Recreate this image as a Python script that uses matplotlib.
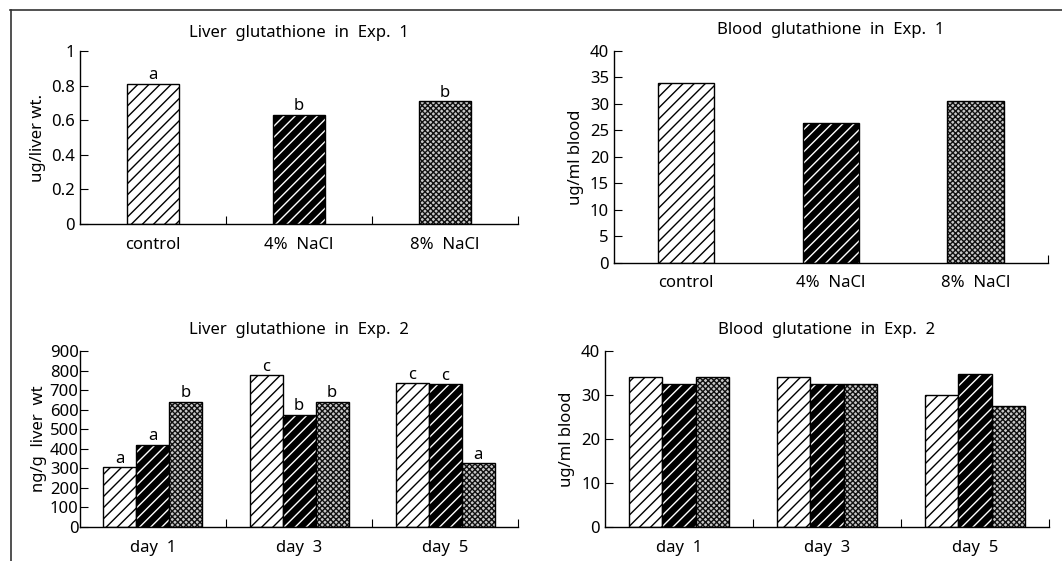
#!/usr/bin/env python3

import matplotlib
matplotlib.use("Agg")
import matplotlib.pyplot as plt
from matplotlib.lines import Line2D
import numpy as np

plt.rcParams["font.family"] = ["Noto Sans", "DejaVu Sans"]
plt.rcParams["hatch.linewidth"] = 1.0

# =========================
# Hardcoded data
# =========================

groups_exp1 = ["control", "4%  NaCl", "8%  NaCl"]
liver_exp1 = [0.81, 0.63, 0.71]
liver_exp1_sig = ["a", "b", "b"]
blood_exp1 = [33.9, 26.5, 30.5]

days = ["day  1", "day  3", "day  5"]
# rows: control, 4% NaCl, 8% NaCl
liver_exp2 = [
    [305, 775, 735],
    [420, 575, 730],
    [640, 640, 325],
]
liver_exp2_sig = [
    ["a", "c", "c"],
    ["a", "b", "c"],
    ["b", "b", "a"],
]
blood_exp2 = [
    [34.0, 34.0, 30.0],
    [32.5, 32.5, 34.7],
    [34.0, 32.5, 27.5],
]

# =========================
# Styles
# =========================

FONT = 12


def draw_bar(ax, x, h, w, kind):
    if kind == 0:
        ax.bar(x, h, w, facecolor="white", edgecolor="black", hatch="///", linewidth=0)
    elif kind == 1:
        ax.bar(x, h, w, facecolor="black", edgecolor="white", hatch="///", linewidth=0)
    else:
        ax.bar(x, h, w, facecolor="#c8c8c8", edgecolor="#111111", hatch="xxxxxx", linewidth=0)
    ax.bar(x, h, w, fill=False, edgecolor="black", linewidth=1.0)


def style_axis(ax, ylim, yticks, ylabel, labels, boundary_ticks=True):
    ax.set_xlim(-0.5, 2.5)
    ax.set_ylim(*ylim)
    ax.set_yticks(yticks)
    ax.set_xticks(range(3))
    ax.set_xticklabels(labels, fontsize=FONT)
    ax.tick_params(axis="x", length=0, pad=9)
    if boundary_ticks:
        ax.set_xticks([0.5, 1.5, 2.5], minor=True)
    else:
        ax.set_xticks([2.5], minor=True)
    ax.tick_params(axis="x", which="minor", direction="in", length=6, width=0.8)
    ax.tick_params(axis="y", direction="in", length=6, width=0.8, labelsize=FONT)
    ax.set_ylabel(ylabel, fontsize=FONT)
    ax.spines["top"].set_visible(False)
    ax.spines["right"].set_visible(False)
    for s in ("left", "bottom"):
        ax.spines[s].set_linewidth(1.0)


fig = plt.figure(figsize=(10.62, 5.61), dpi=100)

# --- Liver Exp. 1
ax1 = fig.add_axes([0.0753, 0.6007, 0.4125, 0.3084])
x = np.arange(3)
for i in range(3):
    draw_bar(ax1, x[i], liver_exp1[i], 0.36, i)
    ax1.text(x[i], liver_exp1[i] + 0.003, liver_exp1_sig[i], ha="center", va="bottom", fontsize=FONT)
style_axis(ax1, (0, 1), [0, 0.2, 0.4, 0.6, 0.8, 1], "ug/liver wt.", groups_exp1)
ax1.set_yticklabels(["0", "0.2", "0.4", "0.6", "0.8", "1"])
ax1.set_title("Liver  glutathione  in  Exp.  1", fontsize=FONT, pad=10)

# --- Blood Exp. 1
ax2 = fig.add_axes([0.578, 0.5312, 0.4088, 0.378])
for i in range(3):
    draw_bar(ax2, x[i], blood_exp1[i], 0.39, i)
style_axis(ax2, (0, 40), range(0, 41, 5), "ug/ml blood", groups_exp1, boundary_ticks=False)
ax2.set_title("Blood  glutathione  in  Exp.  1", fontsize=FONT, pad=12)

# --- Liver Exp. 2
ax3 = fig.add_axes([0.0753, 0.0606, 0.4125, 0.3137])
bw = 0.226
for s in range(3):
    for d in range(3):
        xp = d + (s - 1) * bw
        draw_bar(ax3, xp, liver_exp2[s][d], bw, s)
        ax3.text(xp, liver_exp2[s][d] + 2, liver_exp2_sig[s][d], ha="center", va="bottom", fontsize=FONT)
style_axis(ax3, (0, 900), range(0, 901, 100), "ng/g  liver  wt", days)
ax3.tick_params(axis="y", pad=1)
ax3.yaxis.labelpad = 2
ax3.set_title("Liver  glutathione  in  Exp.  2", fontsize=FONT, pad=12)

# --- Blood Exp. 2
ax4 = fig.add_axes([0.5697, 0.0606, 0.4181, 0.3137])
for s in range(3):
    for d in range(3):
        xp = d + (s - 1) * bw
        draw_bar(ax4, xp, blood_exp2[s][d], bw, s)
style_axis(ax4, (0, 40), range(0, 41, 10), "ug/ml blood", days)
ax4.set_title("Blood  glutatione  in  Exp.  2", fontsize=FONT, pad=12)

# scanned page frame
fig.add_artist(Line2D([0.009, 1.0], [0.982, 0.982], color="#333333", linewidth=1.2))
fig.add_artist(Line2D([0.010, 0.010], [0.0, 0.982], color="#333333", linewidth=1.2))

plt.savefig("out.png", dpi=100)
plt.close(fig)
